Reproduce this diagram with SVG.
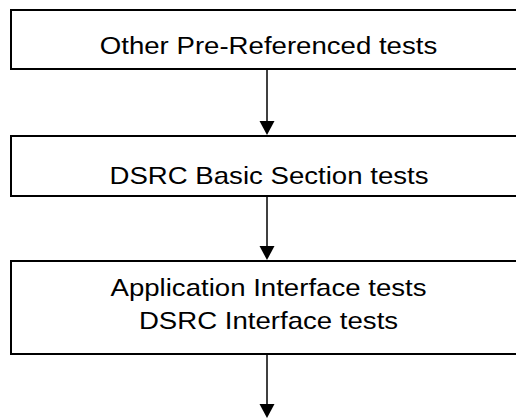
<svg xmlns="http://www.w3.org/2000/svg" width="516" height="418" viewBox="0 0 516 418">
  <style>
    .box { fill: #ffffff; stroke: #000000; stroke-width: 2; }
    .lbl { font-family: "Liberation Sans", Arial, sans-serif; font-size: 24px; fill: #000000; text-anchor: middle; }
    .conn { stroke: #000000; stroke-width: 1.5; fill: none; }
    .head { fill: #000000; stroke: none; }
  </style>
  <rect width="516" height="418" fill="#ffffff"/>
  <g id="connectors">
    <line class="conn" x1="267" y1="69" x2="267" y2="122"/>
    <polygon class="head" points="259.5,121 274.5,121 267,135"/>
    <line class="conn" x1="267" y1="196" x2="267" y2="247"/>
    <polygon class="head" points="259.5,246 274.5,246 267,260"/>
    <line class="conn" x1="267" y1="354" x2="267" y2="405"/>
    <polygon class="head" points="259.5,404 274.5,404 267,418"/>
  </g>
  <g id="node-other">
    <rect class="box" x="11" y="10" width="520" height="59"/>
    <g transform="translate(268.5,0) scale(1.15,1)">
      <text class="lbl" x="0" y="54">Other Pre-Referenced tests</text>
    </g>
  </g>
  <g id="node-basic">
    <rect class="box" x="11" y="136" width="520" height="60"/>
    <g transform="translate(269,0) scale(1.15,1)">
      <text class="lbl" x="0" y="184">DSRC Basic Section tests</text>
    </g>
  </g>
  <g id="node-interface">
    <rect class="box" x="11" y="261" width="520" height="93"/>
    <g transform="translate(268.5,0) scale(1.15,1)">
      <text class="lbl" x="0" y="296">Application Interface tests</text>
      <text class="lbl" x="0" y="329">DSRC Interface tests</text>
    </g>
  </g>
</svg>
